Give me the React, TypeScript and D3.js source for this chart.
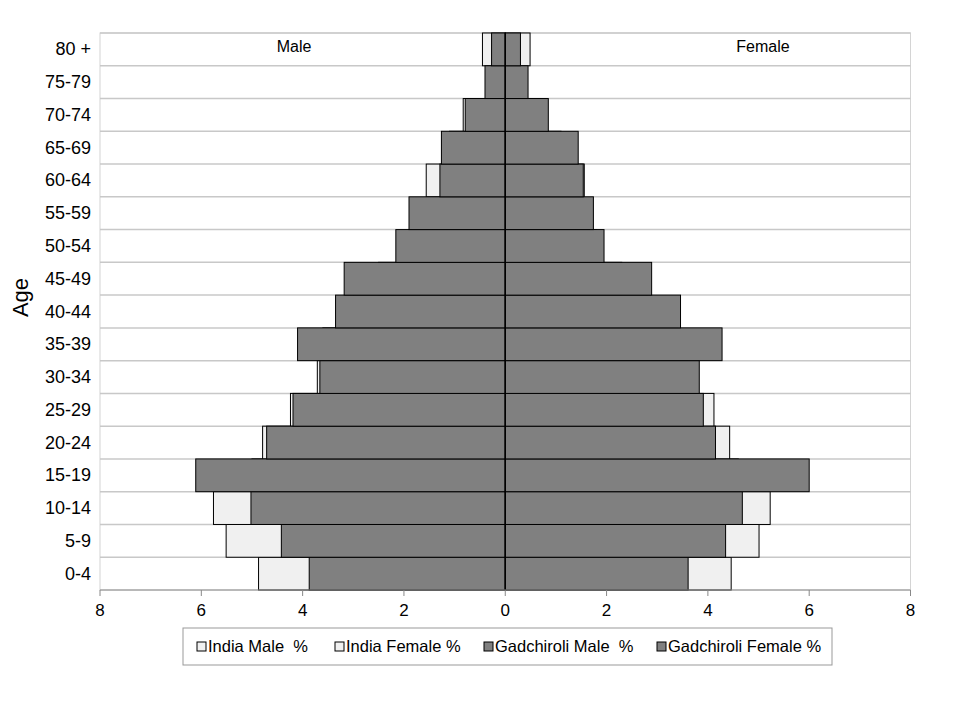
import React from "react";
import * as d3 from "d3";

const ageGroups = ["0-4","5-9","10-14","15-19","20-24","25-29","30-34","35-39","40-44","45-49","50-54","55-59","60-64","65-69","70-74","75-79","80 +"];
const indiaMale = [4.87,5.51,5.76,5.0,4.79,4.24,3.71,3.6,3.0,2.5,1.9,1.45,1.56,1.1,0.83,0.35,0.45];
const indiaFemale = [4.46,5.01,5.23,4.6,4.43,4.12,3.6,3.4,2.8,2.3,1.8,1.4,1.56,1.1,0.8,0.4,0.49];
const gadMale = [3.87,4.42,5.02,6.11,4.71,4.19,3.66,4.10,3.35,3.18,2.16,1.90,1.29,1.26,0.79,0.40,0.27];
const gadFemale = [3.61,4.35,4.68,6.00,4.15,3.91,3.83,4.28,3.46,2.89,1.95,1.74,1.54,1.44,0.85,0.45,0.30];
const xTicks = [-8,-6,-4,-2,0,2,4,6,8];
const legendLabels = ["India Male  %","India Female %","Gadchiroli Male  %","Gadchiroli Female %"];

const LIGHT = "#f0f0f0";
const DARK = "#808080";
const FONT = "Liberation Sans, Arial, sans-serif";

export default function App() {
  const W = 960, H = 720;
  const left = 100, right = 910.5, top = 33, bottom = 590;
  const x = d3.scaleLinear().domain([-8, 8]).range([left, right]);
  const y = d3.scaleBand<string>().domain([...ageGroups].reverse()).range([top, bottom]).padding(0);
  const bw = y.bandwidth();

  const bar = (v: number, i: number, side: number, fill: string, key: string) => {
    const x0 = x(0), x1 = x(side * v);
    return (
      <rect key={key} x={Math.min(x0, x1)} y={y(ageGroups[i])!} width={Math.abs(x1 - x0)} height={bw}
        fill={fill} stroke="#000" strokeWidth={1} />
    );
  };

  const legendItems = [
    { x: 197, fill: LIGHT },
    { x: 335, fill: LIGHT },
    { x: 484, fill: DARK },
    { x: 657, fill: DARK },
  ];

  return (
    <svg width={W} height={H} style={{ position: "absolute", left: 0, top: 0, background: "#fff" }} fontFamily={FONT}>
      <rect x={0} y={0} width={W} height={H} fill="#fff" />
      <rect x={left} y={top} width={right - left} height={bottom - top} fill="#fff" stroke="#d4d4d4" strokeWidth={1} />
      {ageGroups.map((g) => (
        <line key={"g" + g} x1={left} x2={right} y1={y(g)!} y2={y(g)!} stroke="#c8c8c8" strokeWidth={1.5} />
      ))}
      {indiaMale.map((v, i) => bar(v, i, -1, LIGHT, "im" + i))}
      {indiaFemale.map((v, i) => bar(v, i, 1, LIGHT, "if" + i))}
      {gadMale.map((v, i) => bar(v, i, -1, DARK, "gm" + i))}
      {gadFemale.map((v, i) => bar(v, i, 1, DARK, "gf" + i))}
      <line x1={x(0)} x2={x(0)} y1={top} y2={bottom} stroke="#000" strokeWidth={1.5} />
      <line x1={left} x2={right} y1={bottom} y2={bottom} stroke="#888" strokeWidth={1} />
      {xTicks.map((t) => (
        <g key={"t" + t}>
          <line x1={x(t)} x2={x(t)} y1={bottom} y2={bottom + 6} stroke="#888" strokeWidth={1} />
          <text x={x(t)} y={bottom + 26} textAnchor="middle" fontSize={17} fill="#000">{Math.abs(t)}</text>
        </g>
      ))}
      {ageGroups.map((g) => (
        <text key={"l" + g} x={91} y={y(g)! + bw / 2 + 6} textAnchor="end" fontSize={18} fill="#000">{g}</text>
      ))}
      <text transform={`translate(28,${(top + bottom) / 2 - 14}) rotate(-90)`} textAnchor="middle" fontSize={22} fill="#000">Age</text>
      <text x={294} y={52} textAnchor="middle" fontSize={16} fill="#000">Male</text>
      <text x={763} y={52} textAnchor="middle" fontSize={16} fill="#000">Female</text>
      <rect x={183} y={628} width={649} height={37} fill="#fff" stroke="#999" strokeWidth={1} />
      {legendItems.map((it, i) => (
        <g key={"lg" + i}>
          <rect x={it.x} y={642} width={9} height={9} fill={it.fill} stroke="#000" strokeWidth={1} />
          <text x={it.x + 11} y={652} fontSize={16.5} fill="#000" style={{ whiteSpace: "pre" }}>{legendLabels[i]}</text>
        </g>
      ))}
    </svg>
  );
}
